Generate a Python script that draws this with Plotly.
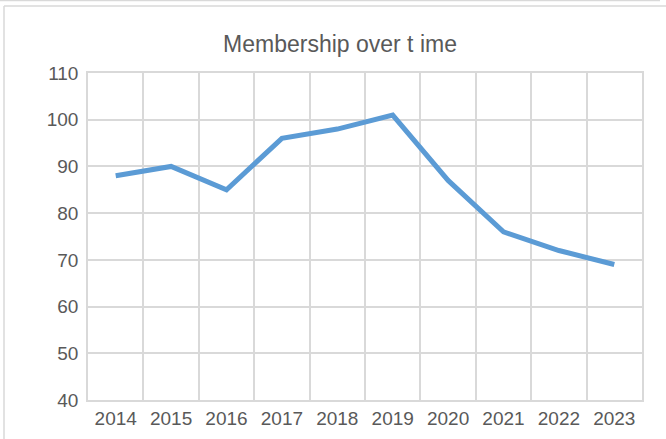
import plotly.graph_objects as go

years = [2014, 2015, 2016, 2017, 2018, 2019, 2020, 2021, 2022, 2023]
members = [88, 90, 85, 96, 98, 101, 87, 76, 72, 69]
y_ticks = [40, 50, 60, 70, 80, 90, 100, 110]
title_text = "Membership over t ime"

W, H = 666, 439
L, R, T, B = 88, 24, 73, 39
pw, ph = W - L - R, H - T - B

grid = "#D9D9D9"
txt = "#595959"
font_family = "Liberation Sans, Arial, sans-serif"

fig = go.Figure()
fig.add_trace(go.Scatter(
    x=years, y=members, mode="lines",
    line=dict(color="#5B9BD5", width=5, shape="linear"),
    hoverinfo="x+y", showlegend=False,
))

def px_x(p):
    return (p - L) / pw

def px_y(p):
    return 1 - (p - T) / ph

fig.update_layout(
    width=W, height=H,
    margin=dict(l=L, r=R, t=T, b=B, pad=0, autoexpand=False),
    paper_bgcolor="white", plot_bgcolor="white",
    font=dict(family=font_family, color=txt, size=19),
    title=dict(text=title_text, x=340 / W, xanchor="center", xref="container",
               y=1 - 44 / H, yanchor="middle", yref="container",
               font=dict(size=23, color=txt, family=font_family)),
    xaxis=dict(
        range=[years[0] - 0.5, years[-1] + 0.5], automargin=False,
        tickmode="array", tickvals=years, ticktext=[str(y) for y in years],
        showgrid=False, zeroline=False,
        minor=dict(tick0=years[0] - 0.5, dtick=1, showgrid=True,
                   gridcolor=grid, gridwidth=1.5, ticks=""),
        showline=True, linecolor=grid, linewidth=1.5, mirror=True,
        ticks="", ticklen=0,
        tickfont=dict(size=19, color=txt),
        fixedrange=True,
    ),
    yaxis=dict(
        range=[40, 110], tickmode="array", tickvals=y_ticks, automargin=False,
        showgrid=True, gridcolor=grid, gridwidth=1.5, zeroline=False,
        showline=True, linecolor=grid, linewidth=1.5, mirror=True,
        ticks="outside", ticklen=4, tickcolor="rgba(0,0,0,0)",
        tickfont=dict(size=19, color=txt),
        fixedrange=True,
    ),
    shapes=[
        dict(type="line", xref="paper", yref="paper",
             x0=px_x(4), x1=px_x(4), y0=px_y(6), y1=px_y(H + 10),
             line=dict(color=grid, width=1.5)),
        dict(type="line", xref="paper", yref="paper",
             x0=px_x(4), x1=px_x(W + 10), y0=px_y(6), y1=px_y(6),
             line=dict(color=grid, width=1.5)),
        dict(type="line", xref="paper", yref="paper",
             x0=px_x(0), x1=px_x(660), y0=px_y(0.5), y1=px_y(0.5),
             line=dict(color=grid, width=1.5)),
    ],
)

fig.write_html("out.html", config={"displayModeBar": False},
               post_script="document.body.style.margin='0';document.body.style.overflow='hidden';")
